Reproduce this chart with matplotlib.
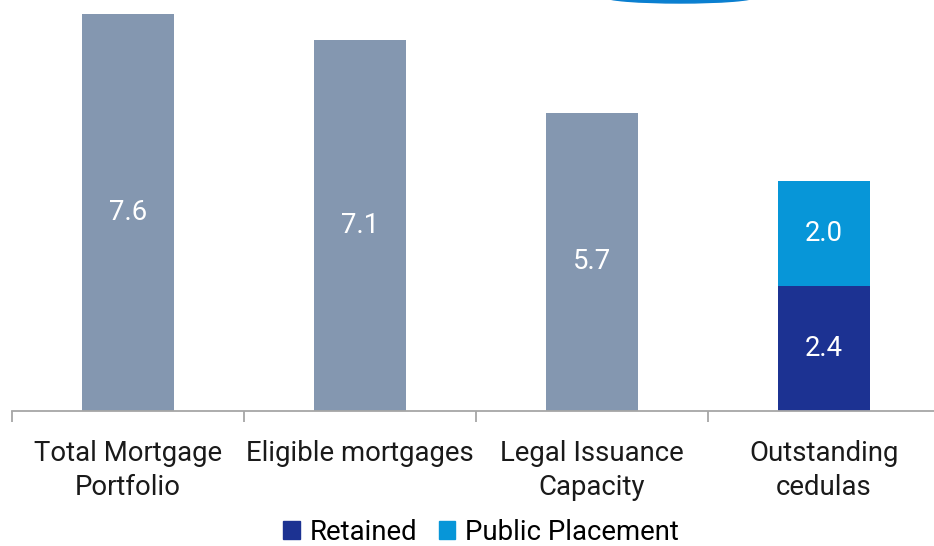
import matplotlib
matplotlib.use("Agg")
import matplotlib.pyplot as plt
from matplotlib.patches import Patch, Ellipse
import numpy as np

categories = ["Total Mortgage\nPortfolio", "Eligible mortgages", "Legal Issuance\nCapacity", "Outstanding\ncedulas"]
single_values = [7.6, 7.1, 5.7]
retained = 2.4
public_placement = 2.0

GREY = "#8497B0"
DARK = "#1C3292"
LIGHT = "#0796D8"

plt.rcParams['font.family'] = ['Roboto', 'DejaVu Sans']
FS = 19.8

W, H = 934, 546
fig = plt.figure(figsize=(W/100, H/100), dpi=100)
ax = fig.add_axes([12/W, (H-411)/H, 928/W, 411/H])

x = np.arange(len(categories))
bw = 0.4
ax.bar(x[:3], single_values, width=bw, color=GREY)
for xi, v in zip(x[:3], single_values):
    ax.text(xi, v/2, f"{v:.1f}", ha="center", va="center", color="white", fontsize=FS)

ax.bar(x[3], retained, width=bw, color=DARK)
ax.bar(x[3], public_placement, bottom=retained, width=bw, color=LIGHT)
ax.text(x[3], retained/2, f"{retained:.1f}", ha="center", va="center", color="white", fontsize=FS)
ax.text(x[3], retained + public_placement/2, f"{public_placement:.1f}", ha="center", va="center", color="white", fontsize=FS)

ax.set_xlim(-0.5, 3.5)
ax.set_ylim(0, 7.86)
for s in ["top", "right", "left"]:
    ax.spines[s].set_visible(False)
ax.spines["bottom"].set_color("#A6A6A6")
ax.spines["bottom"].set_linewidth(1.3)
ax.set_yticks([])
ax.set_xticks(x)
ax.set_xticklabels(categories, fontsize=FS, color="#1a1a1a", linespacing=1.33)
ax.tick_params(axis="x", which="major", length=0, pad=21)
ax.set_xticks(np.arange(-0.5, 4.0, 1.0), minor=True)
ax.tick_params(axis="x", which="minor", length=8, width=1.3, color="#A6A6A6")

handles = [Patch(color=DARK, label="Retained"), Patch(color=LIGHT, label="Public Placement")]
fig.legend(handles=handles, loc="center", bbox_to_anchor=(481/W, 14/H), ncol=2, frameon=False,
           fontsize=FS, handlelength=0.6, handleheight=0.6, handletextpad=0.35, columnspacing=0.8,
           borderpad=0)

# decorative arc at top
arc = Ellipse((680/W, 1.0 + 3/H), 150/W, 12/H, transform=fig.transFigure, color="#0A7FD0", clip_on=False)
fig.add_artist(arc)

fig.savefig("out.png", dpi=100)
